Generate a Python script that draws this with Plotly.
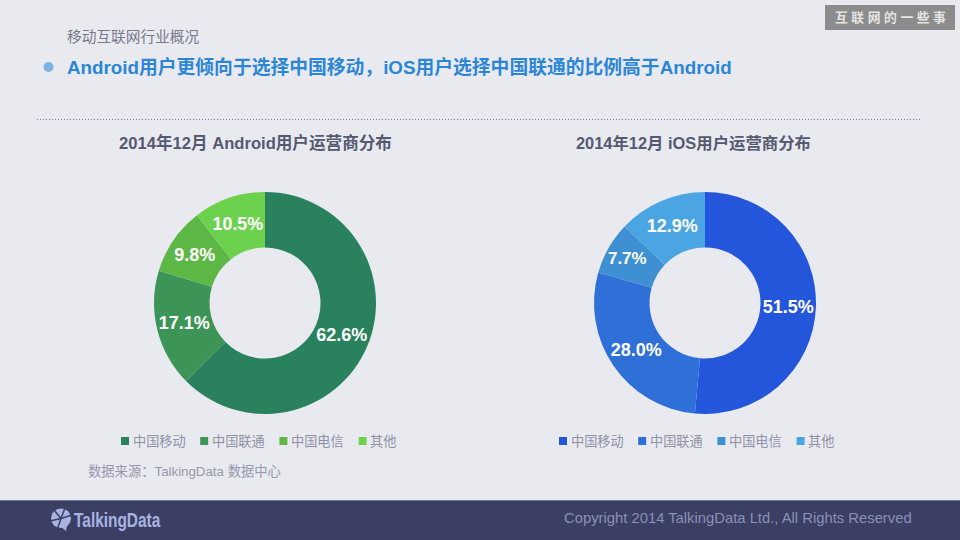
from plotly import graph_objects as go

W, H = 960, 540
FONT = "Liberation Sans, Noto Sans CJK SC, sans-serif"
BG = "#E9EAF0"
FOOTER = "#3B3F63"
LOGO = "#A7B4E2"

carriers = ["中国移动", "中国联通", "中国电信", "其他"]
android_values = [62.6, 17.1, 9.8, 10.5]
ios_values = [51.5, 28.0, 7.7, 12.9]
android_colors = ["#2A815E", "#3C9457", "#5DB745", "#6CD24E"]
ios_colors = ["#2456DC", "#2F6FD8", "#3F8FD3", "#4BA5E3"]

page_section = "移动互联网行业概况"
headline = "Android用户更倾向于选择中国移动，iOS用户选择中国联通的比例高于Android"
android_title = "2014年12月 Android用户运营商分布"
ios_title = "2014年12月 iOS用户运营商分布"
source_note = "数据来源：TalkingData 数据中心"
copyright_note = "Copyright 2014 TalkingData Ltd., All Rights Reserved"
badge_text = "互 联 网 的 一 些 事"
brand = "TalkingData"


def px(x):
    return x / W


def py(y):
    return 1 - y / H


def donut(values, colors, left, right, top, bottom):
    return go.Pie(labels=carriers, values=values, hole=0.5, sort=False, direction="clockwise", rotation=0,
                  marker=dict(colors=colors, line=dict(width=0)),
                  texttemplate="%{value:.1f}%", textposition="inside", insidetextorientation="horizontal",
                  textfont=dict(family=FONT, size=18, color="white", weight=700),
                  domain=dict(x=[px(left), px(right)], y=[py(bottom), py(top)]),
                  showlegend=False, hoverinfo="label+value")


def label(x, y, text, size, color, anchor="left", bold=False):
    # annotations carry about 2px of padding on the left
    x = x - 2 if anchor == "left" else x
    return dict(x=px(x), y=py(y), xref="paper", yref="paper", xanchor=anchor, yanchor="middle", showarrow=False,
                text=f"<b>{text}</b>" if bold else text, font=dict(family=FONT, size=size, color=color))


def rect(x0, y0, x1, y1, color):
    return dict(type="rect", xref="paper", yref="paper", x0=px(x0), x1=px(x1), y0=py(y0), y1=py(y1),
                fillcolor=color, line=dict(width=0), layer="below")


def logo_line(x1, y1):
    return dict(type="line", xref="paper", yref="paper", x0=px(61), x1=px(x1), y0=py(518.5), y1=py(y1),
                line=dict(color=FOOTER, width=1.5))


fig = go.Figure()
fig.add_trace(donut(android_values, android_colors, 154, 376, 192, 414))
fig.add_trace(donut(ios_values, ios_colors, 594, 816, 192, 414))

shapes = [
    rect(0, 500, W, H, FOOTER),
    rect(0, 500, W, 501, "#6F7290"),
    rect(825, 5, 955, 30, "#8C8C8C"),
    # bullet and dotted rule
    dict(type="circle", xref="paper", yref="paper", x0=px(43.5), x1=px(53.5), y0=py(72), y1=py(62),
         fillcolor="#7AB3E3", line=dict(width=0)),
    dict(type="line", xref="paper", yref="paper", x0=px(37), x1=px(921), y0=py(119.5), y1=py(119.5),
         line=dict(color="#6E7CA6", width=1, dash="1px,2px")),
    # logo: round speech bubble cut in wedges, with a small tail
    dict(type="circle", xref="paper", yref="paper", x0=px(51), x1=px(71), y0=py(528), y1=py(508.5),
         fillcolor=LOGO, line=dict(width=0)),
    dict(type="path", xref="paper", yref="paper", fillcolor=LOGO, line=dict(width=0),
         path=f"M {px(60)},{py(526)} L {px(66)},{py(531)} L {px(67)},{py(525)} Z"),
    logo_line(54, 510), logo_line(65, 508), logo_line(72, 515), logo_line(50, 521), logo_line(57, 530),
]

annotations = [
    label(67, 37, page_section, 14.7, "#77798C"),
    label(67, 67, headline, 18.8, "#2B86D6", bold=True),
    label(255.5, 143, android_title, 16.6, "#555A70", anchor="center", bold=True),
    label(693.5, 143, ios_title, 16.4, "#555A70", anchor="center", bold=True),
    label(88, 471, source_note, 13.3, "#9698AC"),
    label(564, 518, copyright_note, 14.8, "#8A90B8"),
    label(890, 18, badge_text, 12.8, "#E4E4E4", anchor="center", bold=True),
    label(74, 519, brand, 21, LOGO, bold=True),
]

# hand placed legends, the swatch sits closer to the text than plotly's own legend allows
for start, colors in ((121, android_colors), (559, ios_colors)):
    for i, (name, color) in enumerate(zip(carriers, colors)):
        x = start + i * 79.2
        shapes.append(rect(x, 437, x + 8, 445, color))
        annotations.append(label(x + 11.5, 441.5, name, 13.2, "#8F91A6"))

fig.update_layout(width=W, height=H, margin=dict(l=0, r=0, t=0, b=0), paper_bgcolor=BG, plot_bgcolor=BG,
                  shapes=shapes, annotations=annotations, showlegend=False)

# drop the page margin and squeeze the brand text, there is no condensed bold font to use
post = """
document.body.style.margin = '0';
document.body.style.overflow = 'hidden';
document.querySelectorAll('.annotation-text').forEach(function (el) {
    if (el.textContent === 'TalkingData') {
        var box = el.getBBox();
        el.setAttribute('transform', 'translate(' + box.x * 0.265 + ',0) scale(0.735,1)');
    }
});
"""
fig.write_html("out.html", post_script=post, config=dict(displayModeBar=False))
